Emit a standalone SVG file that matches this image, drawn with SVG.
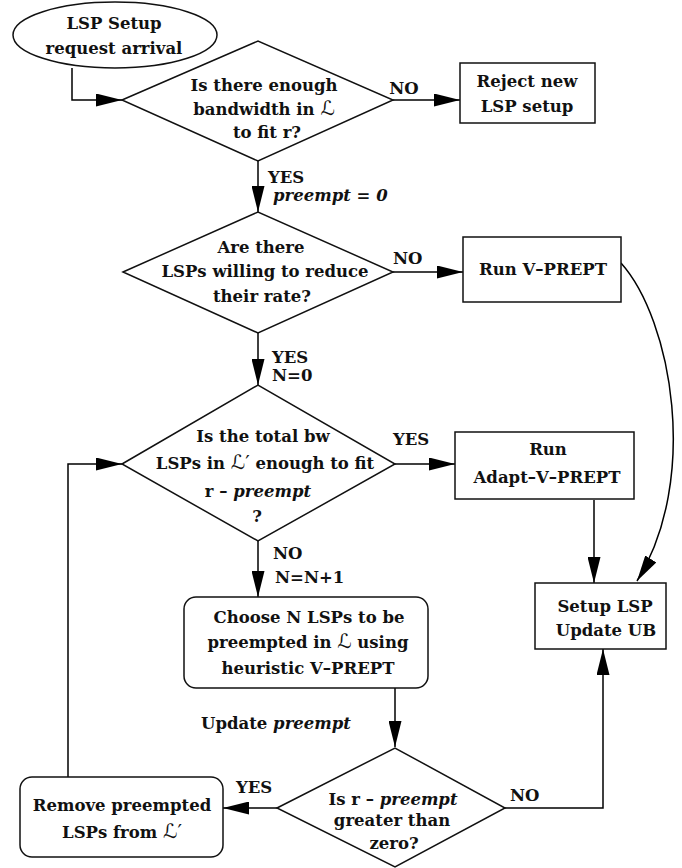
<svg xmlns="http://www.w3.org/2000/svg" width="682" height="868" viewBox="0 0 682 868">
<defs>
<marker id="ah" viewBox="0 0 26 13" refX="26" refY="6.5" markerWidth="26" markerHeight="13" markerUnits="userSpaceOnUse" orient="auto">
<path d="M0,0 L26,6.5 L0,13 z" fill="#000"/>
</marker>
<style>
.s{fill:#fff;stroke:#111;stroke-width:1.5}
.c{fill:none;stroke:#000;stroke-width:1.5}
.a{marker-end:url(#ah)}
text{font-family:"DejaVu Serif","Liberation Serif",serif;font-weight:bold;font-size:16.5px;fill:#111}
.m{text-anchor:middle}
.i{font-style:italic}
.L{font-weight:normal;font-size:20px;font-family:"DejaVu Sans","Noto Sans",sans-serif}
</style>
</defs>
<rect width="682" height="868" fill="#fff"/>
<g id="connectors">
<path class="c a" d="M72,68 V100 H122"/>
<path class="c a" d="M393,100 H460"/>
<path class="c a" d="M258,161 V212"/>
<path class="c a" d="M393,272 H463"/>
<path class="c a" d="M258,333 V385"/>
<path class="c a" d="M395,464 H455"/>
<path class="c a" d="M258,541 V597"/>
<path class="c a" d="M594,500 V583"/>
<path class="c a" d="M621,263 C672,320 700,480 637,581"/>
<path class="c a" d="M395,688 V747"/>
<path class="c a" d="M277,808 H223"/>
<path class="c a" d="M68,777 V464 H122"/>
<path class="c a" d="M505,808 H603 V649"/>
<text x="404" y="94" class="m">NO</text>
<text x="268" y="183">YES</text>
<text x="273" y="201" class="i">preempt = 0</text>
<text x="393" y="264">NO</text>
<text x="272" y="363">YES</text>
<text x="272" y="381">N=0</text>
<text x="393" y="445">YES</text>
<text x="273" y="559">NO</text>
<text x="275" y="583">N=N+1</text>
<text x="276" y="729" class="m">Update <tspan class="i">preempt</tspan></text>
<text x="236" y="793">YES</text>
<text x="510" y="801">NO</text>
</g>
<g id="start">
<ellipse class="s" cx="115" cy="35" rx="102" ry="33"/>
<text x="114" y="29" class="m">LSP Setup</text>
<text x="114" y="54" class="m">request arrival</text>
</g>
<g id="d1">
<path class="s" d="M122,100 L258,41 L393,100 L258,161 z"/>
<text x="264" y="91" class="m">Is there enough</text>
<text x="264" y="115" class="m">bandwidth in <tspan class="L">ℒ</tspan></text>
<text x="267" y="138" class="m">to fit r?</text>
</g>
<g id="reject">
<rect class="s" x="460" y="63" width="135" height="60"/>
<text x="527" y="87" class="m">Reject new</text>
<text x="527" y="112" class="m">LSP setup</text>
</g>
<g id="d2">
<path class="s" d="M123,272 L258,212 L393,272 L258,333 z"/>
<text x="261" y="253" class="m">Are there</text>
<text x="265" y="277" class="m">LSPs willing to reduce</text>
<text x="262" y="302" class="m">their rate?</text>
</g>
<g id="vprept">
<rect class="s" x="463" y="237" width="158" height="65"/>
<text x="543" y="275" class="m">Run V–PREPT</text>
</g>
<g id="d3">
<path class="s" d="M122,464 L258,385 L395,464 L258,541 z"/>
<text x="263" y="442" class="m">Is the total bw</text>
<text x="265" y="469" class="m">LSPs in <tspan class="L">ℒ′</tspan> enough to fit</text>
<text x="258" y="497" class="m">r – <tspan class="i">preempt</tspan></text>
<text x="257" y="522" class="m">?</text>
</g>
<g id="adapt">
<rect class="s" x="455" y="432" width="179" height="67"/>
<text x="548" y="455" class="m">Run</text>
<text x="547" y="483" class="m">Adapt–V–PREPT</text>
</g>
<g id="setup">
<rect class="s" x="535" y="583" width="131" height="66"/>
<text x="605" y="612" class="m">Setup LSP</text>
<text x="606" y="636" class="m">Update UB</text>
</g>
<g id="choose">
<rect class="s" x="184" y="597" width="244" height="91" rx="12"/>
<text x="309" y="623" class="m">Choose N LSPs to be</text>
<text x="308" y="648" class="m">preempted in <tspan class="L">ℒ</tspan> using</text>
<text x="308" y="674" class="m">heuristic V–PREPT</text>
</g>
<g id="d4">
<path class="s" d="M277,808 L395,748 L505,808 L395,867 z"/>
<text x="393" y="805" class="m">Is r – <tspan class="i">preempt</tspan></text>
<text x="392" y="826" class="m">greater than</text>
<text x="394" y="849" class="m">zero?</text>
</g>
<g id="remove">
<rect class="s" x="20" y="777" width="203" height="80" rx="12"/>
<text x="122" y="811" class="m">Remove preempted</text>
<text x="122" y="838" class="m">LSPs from  <tspan class="L">ℒ′</tspan></text>
</g>
</svg>
